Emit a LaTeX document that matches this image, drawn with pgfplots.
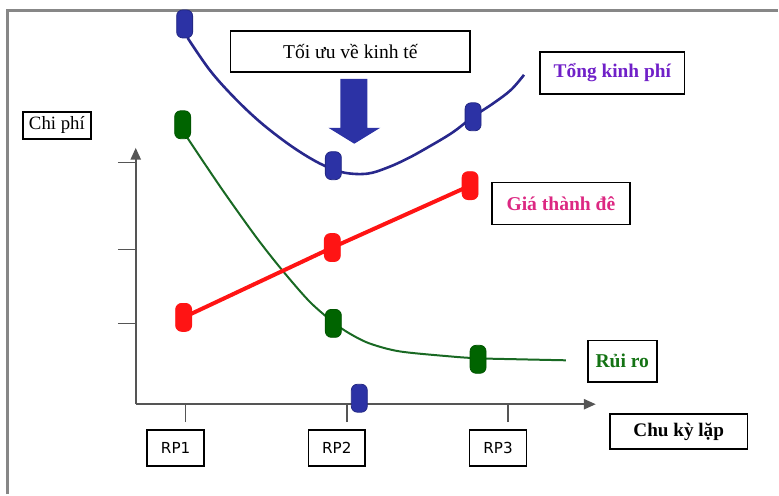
\documentclass[border=0pt]{standalone}
\usepackage{fontspec}
\setmainfont{Liberation Serif}
\newfontfamily\rpfont{DejaVu Sans}
\usepackage{pgfplots}
\pgfplotsset{compat=1.18}
\usetikzlibrary{arrows.meta}

\definecolor{bluemk}{RGB}{44,50,165}
\definecolor{blueln}{RGB}{40,40,140}
\definecolor{greenmk}{RGB}{0,100,0}
\definecolor{greenln}{RGB}{25,105,35}
\definecolor{redln}{RGB}{255,20,20}
\definecolor{purpletx}{RGB}{112,32,200}
\definecolor{magentatx}{RGB}{220,40,130}
\definecolor{greentx}{RGB}{20,115,20}
\definecolor{axisgray}{RGB}{85,85,85}
\definecolor{framegray}{RGB}{135,135,135}

\pgfdeclareplotmark{capsule}{%
  \pgfpathmoveto{\pgfpoint{-4pt}{-4pt}}%
  \pgfpathlineto{\pgfpoint{-4pt}{4pt}}%
  \pgfpatharc{180}{90}{3pt}%
  \pgfpathlineto{\pgfpoint{1pt}{7pt}}%
  \pgfpatharc{90}{0}{3pt}%
  \pgfpathlineto{\pgfpoint{4pt}{-4pt}}%
  \pgfpatharc{0}{-90}{3pt}%
  \pgfpathlineto{\pgfpoint{-1pt}{-7pt}}%
  \pgfpatharc{-90}{-180}{3pt}%
  \pgfpathclose
  \pgfusepathqfillstroke}

\begin{document}
\begin{tikzpicture}
\begin{axis}[
  scale only axis, width=230.5pt, height=128.5pt,
  xmin=0.6904, xmax=3.5449, ymin=0, ymax=3.2125,
  axis lines=left,
  axis line style={draw=axisgray, line width=1.2pt, -{Triangle[length=6pt,width=5pt]}},
  xtick={1,2,3}, xticklabels={RP1,RP2,RP3},
  ytick={1.0125,1.9375,3.025}, yticklabels={,,},
  tick align=outside, major tick length=9pt,
  tick style={draw=axisgray, line width=0.7pt},
  xticklabel style={draw=black, line width=0.8pt, minimum width=28.5pt, minimum height=18pt, inner sep=0pt, font=\rpfont\fontsize{7.6}{9}\selectfont, xshift=-5pt, yshift=-3.5pt},
  clip=false,
]
% invisible full-picture extent and outer frame
\path (axis cs:-0.1517,-1.125) rectangle (axis cs:4.6718,5.0625);
\draw[framegray, line width=1.5pt] (axis cs:-0.1022,-1.125) -- (axis cs:-0.1022,4.925) -- (axis cs:4.6718,4.925);

% curves
\addplot[blueln, line width=1.3pt, smooth, tension=0.6] coordinates {
 (1.0124,4.5875) (1.1486,4.1875) (1.2910,3.8625) (1.4458,3.5625) (1.6006,3.3125)
 (1.7368,3.125) (1.8607,2.9875) (1.9845,2.9) (2.1269,2.8875) (2.2508,2.9625)
 (2.3746,3.075) (2.4985,3.2125) (2.6533,3.4) (2.7833,3.6) (2.9133,3.775) (3.0186,3.9375) (3.0991,4.125)};
\addplot[greenln, line width=1pt, smooth, tension=0.5] coordinates {
 (1.0062,3.35) (1.2229,2.7) (1.4396,2.0875) (1.6006,1.675) (1.7678,1.2875)
 (1.9164,1.025) (2.0155,0.8875) (2.1393,0.7625) (2.3251,0.6625) (2.6347,0.6)
 (2.8142,0.575) (3.0681,0.5625) (3.3591,0.55)};
\addplot[redln, line width=2pt] coordinates {
 (0.9876,1.0875) (1.9102,1.9625) (2.7647,2.7375)};

% markers
\addplot[only marks, mark=capsule, mark options={fill=bluemk, draw=bluemk!80!black, line width=0.4pt}] coordinates {
 (0.9938,4.7625) (1.9164,2.9875) (2.7833,3.6) (2.0774,0.075)};
\addplot[only marks, mark=capsule, mark options={fill=greenmk, draw=greenmk!85!black, line width=0.4pt}] coordinates {
 (0.9814,3.5) (1.9164,1.0125) (2.8142,0.5625)};
\addplot[only marks, mark=capsule, mark options={fill=redln, draw=redln, line width=0.4pt}] coordinates {
 (0.9876,1.0875) (1.9102,1.9625) (2.7647,2.7375)};

% big arrow
\fill[bluemk] (axis cs:1.9598,4.075) -- (axis cs:2.1269,4.075) -- (axis cs:2.1269,3.4625)
  -- (axis cs:2.2074,3.4625) -- (axis cs:2.0464,3.2625) -- (axis cs:1.8854,3.4625)
  -- (axis cs:1.9598,3.4625) -- cycle;

% text boxes
\node[draw=black, line width=0.8pt, minimum width=34pt, minimum height=13.5pt, inner sep=0pt,
  font=\fontsize{9.4}{11}\selectfont] at (axis cs:0.2012,3.4938) {Chi phí};
\node[draw=black, line width=0.8pt, minimum width=120pt, minimum height=20.5pt, inner sep=0pt,
  font=\fontsize{9.8}{11}\selectfont] at (axis cs:2.0217,4.4188) {Tối ưu về kinh tế};
\node[draw=black, line width=0.8pt, minimum width=72.5pt, minimum height=21pt, inner sep=0pt,
  text=purpletx, font=\bfseries\fontsize{9.7}{11}\selectfont] at (axis cs:3.6471,4.15) {Tổng kinh phí};
\node[draw=black, line width=0.8pt, minimum width=69pt, minimum height=21pt, inner sep=0pt,
  text=magentatx, font=\bfseries\fontsize{9.8}{11}\selectfont] at (axis cs:3.3282,2.5125) {Giá thành đê};
\node[draw=black, line width=0.8pt, minimum width=34.5pt, minimum height=21pt, inner sep=0pt,
  text=greentx, font=\bfseries\fontsize{9.8}{11}\selectfont] at (axis cs:3.7090,0.5375) {Rủi ro};
\node[draw=black, line width=0.8pt, minimum width=69pt, minimum height=17.5pt, inner sep=0pt,
  font=\bfseries\fontsize{9.6}{11}\selectfont] at (axis cs:4.0588,-0.34375) {Chu kỳ lặp};
\end{axis}
\end{tikzpicture}
\end{document}
